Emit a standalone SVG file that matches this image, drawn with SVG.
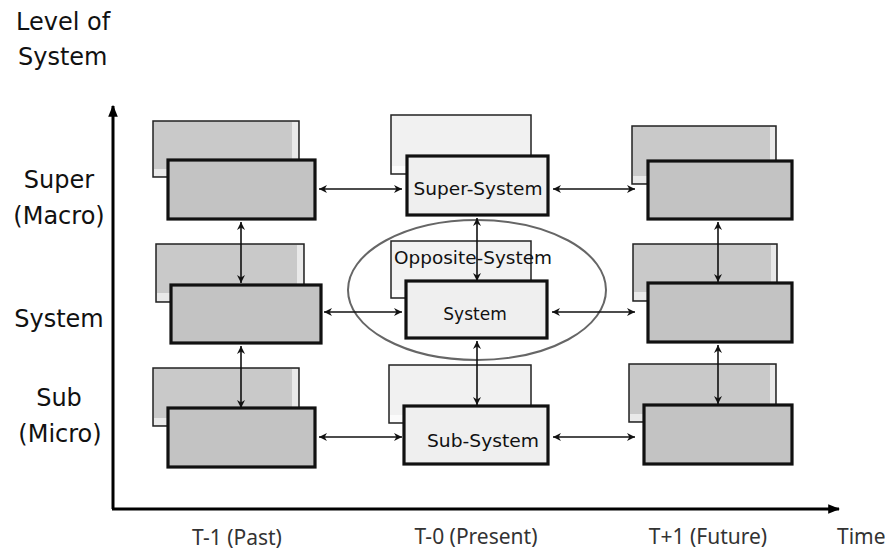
<svg xmlns="http://www.w3.org/2000/svg" width="885" height="552" viewBox="0 0 885 552">
<style>
.back{fill:#c9c9c9;stroke:#222;stroke-width:1.5}
.backl{fill:#f1f1f1;stroke:#222;stroke-width:1.5}
.strip{fill:#e9e9e9}
.stripl{fill:#fbfbfb}
.front{fill:#c3c3c3;stroke:#111;stroke-width:3.2}
.frontl{fill:#efefef;stroke:#111;stroke-width:3.2}
.lab{font-family:"DejaVu Sans","Liberation Sans",sans-serif;font-size:24px;fill:#111}
.box{font-family:"DejaVu Sans","Liberation Sans",sans-serif;font-size:17px;fill:#111}
.tick{font-family:"Noto Sans","Open Sans",sans-serif;font-size:21px;fill:#333}
.conn{stroke:#111;stroke-width:1.6;fill:none;marker-start:url(#ah);marker-end:url(#ah)}
.axis{stroke:#000;stroke-width:3;fill:none}
</style>
<defs>
<marker id="ah" viewBox="0 0 10 10" refX="10" refY="5" markerWidth="11" markerHeight="8" markerUnits="userSpaceOnUse" orient="auto-start-reverse">
<path d="M0,0 L10,5 L0,10 L3,5 z" fill="#111"/>
</marker>
<marker id="axh" viewBox="0 0 10 10" refX="9" refY="5" markerWidth="12" markerHeight="12" markerUnits="userSpaceOnUse" orient="auto">
<path d="M0,1 L10,5 L0,9 z" fill="#000"/>
</marker>
</defs>
<rect width="885" height="552" fill="#fff"/>

<g id="axes">
<line class="axis" x1="113" y1="509" x2="113" y2="106" marker-end="url(#axh)"/>
<line class="axis" x1="112" y1="509" x2="839" y2="509" marker-end="url(#axh)"/>
</g>

<g id="labels">
<text class="lab" x="16" y="30">Level of</text>
<text class="lab" x="18" y="65">System</text>
<text class="lab" x="59" y="188" text-anchor="middle">Super</text>
<text class="lab" x="59" y="224" text-anchor="middle">(Macro)</text>
<text class="lab" x="59" y="327" text-anchor="middle">System</text>
<text class="lab" x="59" y="406" text-anchor="middle">Sub</text>
<text class="lab" x="60" y="442" text-anchor="middle">(Micro)</text>
<text class="tick" x="237" y="545" text-anchor="middle">T-1 (Past)</text>
<text class="tick" x="476" y="544" text-anchor="middle">T-0 (Present)</text>
<text class="tick" x="708" y="544" text-anchor="middle">T+1 (Future)</text>
<text class="tick" x="837" y="544">Time</text>
</g>

<!-- column 1 -->
<g id="past-super">
<rect class="back" x="153" y="121" width="146" height="56"/>
<rect class="strip" x="292" y="122" width="6" height="54"/>
<rect class="strip" x="154" y="169" width="20" height="7"/>
<rect class="front" x="168" y="160" width="147" height="59"/>
</g>
<g id="past-system">
<rect class="back" x="156" y="244" width="148" height="58"/>
<rect class="strip" x="297" y="245" width="6" height="56"/>
<rect class="strip" x="157" y="293" width="20" height="8"/>
<rect class="front" x="171" y="285" width="150" height="58"/>
</g>
<g id="past-sub">
<rect class="back" x="153" y="368" width="146" height="58"/>
<rect class="strip" x="292" y="369" width="6" height="56"/>
<rect class="strip" x="154" y="418" width="20" height="7"/>
<rect class="front" x="168" y="408" width="147" height="59"/>
</g>

<!-- column 2 -->
<g id="super-system">
<rect class="backl" x="391" y="115" width="140" height="59"/>
<rect class="stripl" x="392" y="166" width="20" height="7"/>
<rect class="frontl" x="407" y="156" width="141" height="59"/>
<text class="box" x="478" y="195" text-anchor="middle" textLength="129" lengthAdjust="spacingAndGlyphs">Super-System</text>
</g>
<g id="opposite-system">
<rect class="backl" x="391" y="241" width="140" height="57"/>
<rect class="stripl" x="392" y="290" width="20" height="7"/>
<text class="box" x="473" y="264" text-anchor="middle" textLength="158" lengthAdjust="spacingAndGlyphs">Opposite-System</text>
</g>
<g id="system">
<rect class="frontl" x="406" y="281" width="141" height="57"/>
<text class="box" x="475" y="320" text-anchor="middle">System</text>
</g>
<g id="sub-system">
<rect class="backl" x="389" y="365" width="142" height="58"/>
<rect class="stripl" x="390" y="415" width="20" height="7"/>
<rect class="frontl" x="404" y="406" width="144" height="58"/>
<text class="box" x="483" y="447" text-anchor="middle" textLength="112" lengthAdjust="spacingAndGlyphs">Sub-System</text>
</g>

<!-- column 3 -->
<g id="future-super">
<rect class="back" x="632" y="126" width="144" height="58"/>
<rect class="strip" x="770" y="127" width="5" height="56"/>
<rect class="strip" x="633" y="176" width="20" height="7"/>
<rect class="front" x="648" y="161" width="144" height="58"/>
</g>
<g id="future-system">
<rect class="back" x="633" y="244" width="144" height="57"/>
<rect class="strip" x="771" y="245" width="5" height="55"/>
<rect class="strip" x="634" y="292" width="20" height="8"/>
<rect class="front" x="648" y="283" width="144" height="59"/>
</g>
<g id="future-sub">
<rect class="back" x="629" y="364" width="147" height="58"/>
<rect class="strip" x="770" y="365" width="5" height="56"/>
<rect class="strip" x="630" y="414" width="20" height="7"/>
<rect class="front" x="644" y="405" width="148" height="59"/>
</g>

<g id="ellipse">
<ellipse cx="477" cy="290" rx="129" ry="70" fill="none" stroke="#666" stroke-width="2"/>
</g>

<g id="connectors">
<line class="conn" x1="319" y1="189" x2="402" y2="189"/>
<line class="conn" x1="553" y1="189" x2="635" y2="189"/>
<line class="conn" x1="324" y1="312" x2="402" y2="312"/>
<line class="conn" x1="552" y1="312" x2="635" y2="312"/>
<line class="conn" x1="319" y1="437" x2="402" y2="437"/>
<line class="conn" x1="553" y1="437" x2="635" y2="437"/>
<line class="conn" x1="241" y1="222" x2="241" y2="283"/>
<line class="conn" x1="241" y1="346" x2="241" y2="408"/>
<line class="conn" x1="477" y1="218" x2="477" y2="281"/>
<line class="conn" x1="477" y1="341" x2="477" y2="405"/>
<line class="conn" x1="718" y1="222" x2="718" y2="282"/>
<line class="conn" x1="718" y1="345" x2="718" y2="404"/>
</g>
</svg>
